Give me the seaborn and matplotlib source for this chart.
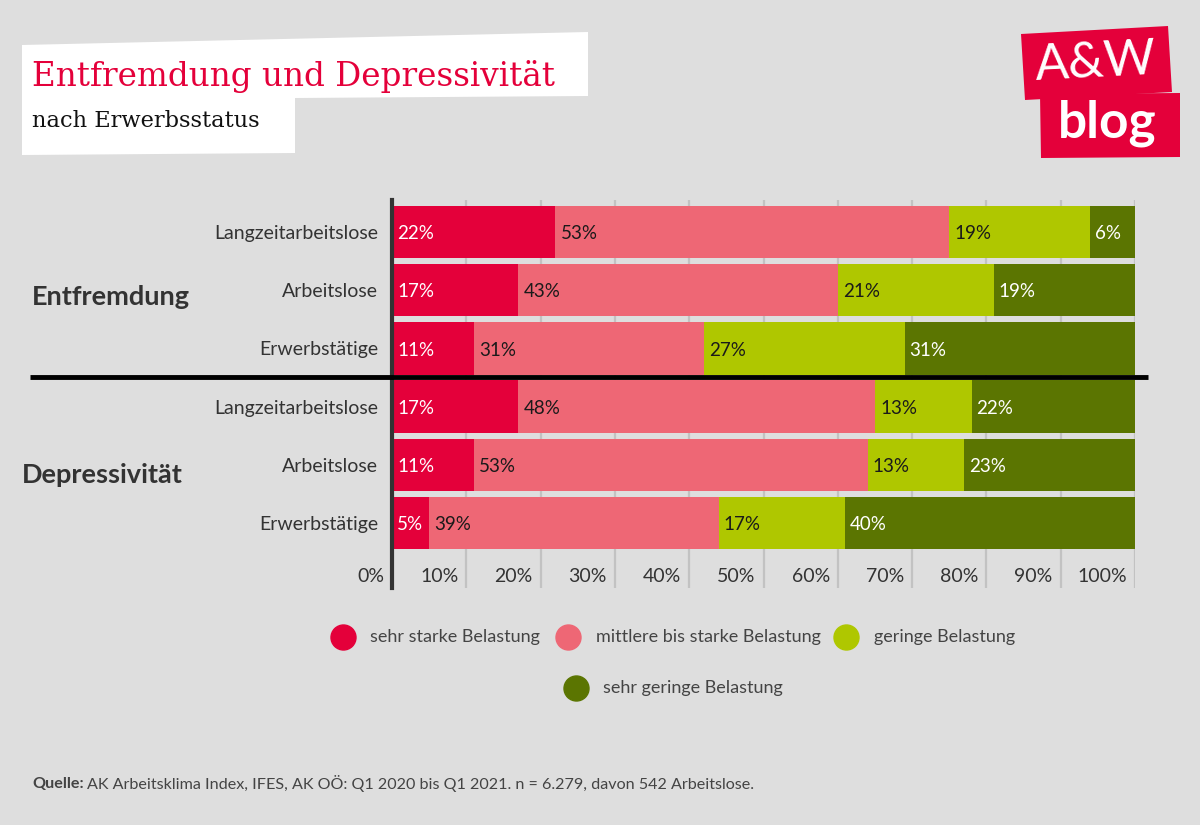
import matplotlib
matplotlib.use("Agg")
import matplotlib.pyplot as plt
import matplotlib.transforms as mtransforms
from matplotlib.patches import Polygon
from matplotlib.lines import Line2D
import seaborn as sns
import pandas as pd

# ---------------- data ----------------
groups = ["Entfremdung", "Depressivität"]
categories = ["Langzeitarbeitslose", "Arbeitslose", "Erwerbstätige"]
series = ["sehr starke Belastung", "mittlere bis starke Belastung",
          "geringe Belastung", "sehr geringe Belastung"]
sehr_stark = [22, 17, 11, 17, 11, 5]
mittel_stark = [53, 43, 31, 48, 53, 39]
gering = [19, 21, 27, 13, 13, 17]
sehr_gering = [6, 19, 31, 22, 23, 40]
x_ticks = [0, 10, 20, 30, 40, 50, 60, 70, 80, 90, 100]
x_tick_labels = ["0%", "10%", "20%", "30%", "40%", "50%", "60%", "70%", "80%", "90%", "100%"]

colors = ["#E4003A", "#EE6775", "#AFC700", "#5B7501"]
label_colors = ["white", "#1a1a1a", "#1a1a1a", "white"]
BG = "#DEDEDE"

row_ids = [f"{g}|{c}" for g in groups for c in categories]
row_labels = categories * len(groups)
values = [sehr_stark, mittel_stark, gering, sehr_gering]

records = []
for i, rid in enumerate(row_ids):
    start = 0
    for s, vals in zip(series, values):
        v = vals[i]
        records.append({"row": rid, "series": s, "value": v, "start": start, "end": start + v})
        start += v
df = pd.DataFrame(records)

# ---------------- figure ----------------
sns.set_style("white")
plt.rcParams["font.family"] = ["Lato", "DejaVu Sans"]

W, H = 1200, 825
fig = plt.figure(figsize=(W / 100, H / 100), dpi=100, facecolor=BG)
px = mtransforms.Affine2D().scale(1 / W, -1 / H).translate(0, 1) + fig.transFigure

ax = fig.add_axes([392 / W, 1 - 588 / H, 743 / W, 388 / H])
ax.set_facecolor(BG)

# stacked bars: draw cumulative ends from last to first series
for s, c in reversed(list(zip(series, colors))):
    sub = df[df["series"] == s]
    sns.barplot(data=sub, x="end", y="row", order=row_ids, orient="h",
                color=c, saturation=1, width=0.9, errorbar=None,
                linewidth=0, ax=ax, zorder=2)

ax.set_xlim(0, 100)
ax.set_ylim(6.12, -0.552)
ax.set_xticks(x_ticks)
ax.set_xticklabels([])
ax.tick_params(axis="x", length=0)
ax.xaxis.grid(True, color="#C2C2C2", linewidth=1.6, zorder=0)
ax.set_axisbelow(True)
ax.set_xlabel("")
ax.set_ylabel("")
ax.set_yticks(range(len(row_ids)))
ax.set_yticklabels(row_labels, fontsize=14, color="#333333")
ax.tick_params(axis="y", length=0, pad=10)
for sp in ["top", "right", "bottom"]:
    ax.spines[sp].set_visible(False)
ax.spines["left"].set_color("#333333")
ax.spines["left"].set_linewidth(3)
ax.spines["left"].set_zorder(5)

# x tick labels inside the plot area, right-aligned to each grid line
tick_off = mtransforms.offset_copy(ax.transData, fig=fig, x=-8, y=0, units="dots")
for t, lab in zip(x_ticks, x_tick_labels):
    ax.text(t, 5.93, lab, ha="right", va="center", fontsize=14,
            color="#333333", transform=tick_off)

# value labels
lab_off = mtransforms.offset_copy(ax.transData, fig=fig, x=5, y=0, units="dots")
for _, r in df.iterrows():
    yi = row_ids.index(r["row"])
    si = series.index(r["series"])
    if r["start"] >= 100:
        continue
    ax.text(r["start"], yi + 0.03, f"{int(r['value'])}%", ha="left", va="center",
            fontsize=13.5, color=label_colors[si], transform=lab_off, zorder=6)

# separator line between the two groups
blend = mtransforms.blended_transform_factory(ax.transAxes, ax.transData)
ax.plot([(30 - 392) / 743, (1148 - 392) / 743], [2.5, 2.5], color="black",
        linewidth=3.5, transform=blend, clip_on=False, zorder=7, solid_capstyle="butt")

# group labels
fig.text(32, 297, groups[0], transform=px, fontsize=19.5, fontweight="bold",
         color="#333333", ha="left", va="center")
fig.text(22, 475, groups[1], transform=px, fontsize=19.5, fontweight="bold",
         color="#333333", ha="left", va="center")

# ---------------- title box ----------------
fig.patches.append(Polygon([(22, 45), (588, 32), (588, 96), (295, 98), (295, 153), (22, 155)],
                           closed=True, facecolor="white", edgecolor="none", transform=px))
fig.text(32, 86, "Entfremdung und Depressivität", transform=px, fontsize=23.5,
         family="DejaVu Serif", color="#E4003A", ha="left", va="baseline")
fig.text(32, 127, "nach Erwerbsstatus", transform=px, fontsize=16.2,
         family="DejaVu Serif", color="#111111", ha="left", va="baseline")

# ---------------- logo ----------------
fig.patches.append(Polygon([(1021, 34), (1168, 26), (1172, 92), (1025, 100)],
                           closed=True, facecolor="#E4003A", edgecolor="none", transform=px))
fig.patches.append(Polygon([(1040, 94), (1180, 93), (1180, 157), (1041, 158)],
                           closed=True, facecolor="#E4003A", edgecolor="none", transform=px))
fig.text(1096, 63, "A&W", transform=px, fontsize=36, fontweight="normal",
         color="white", ha="center", va="center", rotation=3)
fig.text(1107, 123, "blog", transform=px, fontsize=37, fontweight="bold",
         color="white", ha="center", va="center")

# ---------------- legend ----------------
leg_items = [(343, 637, 370), (568, 637, 596), (846, 637, 874), (576, 688, 603)]
for (cx, cy, tx), s, c in zip(leg_items, series, colors):
    fig.add_artist(Line2D([cx], [cy], marker="o", markersize=18, color=c,
                          linestyle="none", transform=px))
    fig.text(tx, cy, s, transform=px, fontsize=13, color="#444444",
             ha="left", va="center")

# ---------------- footer ----------------
t1 = fig.text(32, 784, "Quelle:", transform=px, fontsize=11.6, fontweight="bold",
              color="#444444", ha="left", va="center")
fig.canvas.draw()
bb = t1.get_window_extent()
fig.text(bb.x1 + 3, (bb.y0 + bb.y1) / 2,
         "AK Arbeitsklima Index, IFES, AK OÖ: Q1 2020 bis Q1 2021. n = 6.279, davon 542 Arbeitslose.",
         transform=None, fontsize=11.6, color="#444444", ha="left", va="center")

fig.savefig("out.png", dpi=100, facecolor=BG)
